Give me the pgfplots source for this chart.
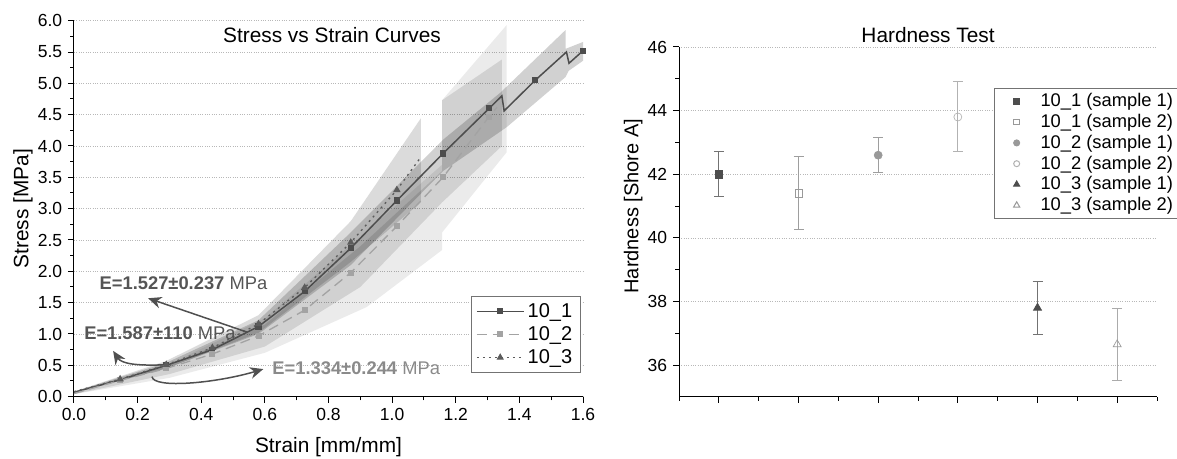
\documentclass[border=0pt]{standalone}
\usepackage{fontspec}
\setmainfont{Liberation Sans}
\usepackage{pgfplots}
\pgfplotsset{compat=1.18}
\usetikzlibrary{arrows.meta}
\definecolor{cOne}{HTML}{4D4D4D}
\definecolor{cTwo}{HTML}{A3A3A3}
\definecolor{cThree}{HTML}{5C5C5C}
\definecolor{cTxt}{HTML}{555555}
\definecolor{cTxtL}{HTML}{8A8A8A}
\definecolor{cArr}{HTML}{505050}
\begin{document}
\begin{tikzpicture}
\useasboundingbox (0,0) rectangle (706.2pt,275.4pt);
% ---------------- left: stress-strain ----------------
\begin{axis}[
  at={(44.4pt,37.4pt)}, anchor=south west,
  scale only axis, width=305.4pt, height=225.6pt,
  xmin=0, xmax=1.6, ymin=0, ymax=6,
  axis lines=left, axis line style={-, line width=0.6pt},
  x axis line style={-}, y axis line style={-},
  tick align=outside, major tick length=3.6pt, minor tick length=2.2pt,
  tick style={line width=0.6pt, black},
  xtick={0,0.2,0.4,0.6,0.8,1.0,1.2,1.4,1.6},
  ytick={0,0.5,1,1.5,2,2.5,3,3.5,4,4.5,5,5.5,6},
  minor x tick num=1, minor y tick num=1,
  ymajorgrids, grid style={densely dotted, black!28},
  /pgf/number format/assume math mode=true,
  xticklabel style={/pgf/number format/.cd, fixed, fixed zerofill, precision=1},
  yticklabel style={/pgf/number format/.cd, fixed, fixed zerofill, precision=1},
  tick label style={font=\fontsize{10.5}{12}\selectfont},
  xlabel={Strain [mm/mm]}, ylabel={Stress [MPa]},
  label style={font=\fontsize{12.5}{14}\selectfont},
  xlabel style={at={(axis description cs:0.5,-0.133)}, anchor=center},
  ylabel style={at={(axis description cs:-0.100,0.5)}, anchor=center},
  legend cell align=left,
  legend style={at={(axis description cs:0.996,0.063)}, anchor=south east,
    draw=black!55, line width=0.6pt, font=\fontsize{12}{14}\selectfont,
    nodes={inner sep=2pt}, row sep=0pt},
  legend image code/.code={\draw[#1, mark indices={2}] plot coordinates {(0pt,0pt) (14pt,0pt) (28pt,0pt)};},
]
% bands
\addplot[fill=black, fill opacity=0.08, draw=none, forget plot] coordinates {
 (0,0.05) (0.3,0.52) (0.6,1.25) (0.9,2.55) (1.157,3.7) (1.157,4.73) (1.36,5.93)
 (1.36,3.9) (1.29,3.46) (1.157,2.62) (1.157,2.34) (0.92,1.43) (0.6,0.70) (0.3,0.30) (0,0.04)} -- cycle;
\addplot[fill=black, fill opacity=0.11, draw=none, forget plot] coordinates {
 (0,0.05) (0.3,0.5) (0.6,1.15) (0.9,2.4) (1.157,3.6) (1.157,4.73) (1.345,5.38)
 (1.345,4.0) (1.157,3.1) (0.9,1.75) (0.6,0.8) (0.3,0.36) (0,0.04)} -- cycle;
\addplot[fill=black, fill opacity=0.18, draw=none, forget plot] coordinates {
 (0,0.08) (0.29,0.54) (0.58,1.22) (0.87,2.62) (1.16,4.1) (1.34,4.85) (1.545,5.85)
 (1.545,5.55) (1.6,5.66) (1.6,5.36) (1.555,5.2) (1.545,5.1) (1.36,4.3) (1.16,3.6)
 (0.87,2.1) (0.58,1.0) (0.29,0.45) (0,0.06)} -- cycle;
\addplot[fill=black, fill opacity=0.14, draw=none, forget plot] coordinates {
 (0,0.08) (0.29,0.57) (0.58,1.3) (0.87,2.8) (1.09,4.44)
 (1.09,3.1) (0.87,2.15) (0.58,1.02) (0.29,0.45) (0,0.06)} -- cycle;
% curves
\addplot[cOne, line width=0.9pt, mark=square*, mark size=1.4pt,
  mark options={solid, fill=cOne}, mark indices={2,3,4,5,6,7,8,9,10,13,16}] coordinates {
 (0,0.07) (0.145,0.27) (0.29,0.5) (0.435,0.75) (0.58,1.12) (0.725,1.68) (0.87,2.37)
 (1.015,3.13) (1.16,3.88) (1.305,4.6) (1.345,4.8) (1.352,4.56) (1.45,5.05)
 (1.548,5.5) (1.556,5.32) (1.6,5.52)};
\addlegendentry{10\_1}
\addplot[cTwo, line width=0.8pt, dash pattern=on 6pt off 3.5pt, mark=square*, mark size=1.4pt,
  mark options={solid, fill=cTwo}, mark indices={2,3,4,5,6,7,8,9,10}] coordinates {
 (0,0.05) (0.145,0.26) (0.29,0.45) (0.435,0.68) (0.58,0.97) (0.725,1.38) (0.87,1.98)
 (1.015,2.72) (1.16,3.5) (1.305,4.47) (1.33,4.62)};
\addlegendentry{10\_2}
\addplot[cThree, line width=0.8pt, dash pattern=on 1.2pt off 2.4pt, mark=triangle*, mark size=1.8pt,
  mark options={solid, fill=cThree}, mark indices={2,3,4,5,6,7,8}] coordinates {
 (0,0.08) (0.145,0.28) (0.29,0.51) (0.435,0.78) (0.58,1.16) (0.725,1.74) (0.87,2.46)
 (1.015,3.3) (1.09,3.82)};
\addlegendentry{10\_3}
% annotations
\node[font=\fontsize{12.5}{14}\selectfont] at (axis cs:0.811,5.77) {Stress vs Strain Curves};
\node[text=cTxt, font=\fontsize{11}{13}\selectfont] at (axis cs:0.344,1.81) {\textbf{E=1.527±0.237} MPa};
\node[text=cTxt, font=\fontsize{11}{13}\selectfont] at (axis cs:0.27,1.02) {\textbf{E=1.587±110} MPa};
\node[text=cTxtL, font=\fontsize{11}{13}\selectfont] at (axis cs:0.887,0.46) {\textbf{E=1.334±0.244} MPa};
\draw[cArr, line width=0.9pt, -{Stealth[length=8pt,width=7pt]}] (axis cs:0.544,1.03) -- (axis cs:0.233,1.57);
\draw[cArr, line width=0.9pt, -{Stealth[length=8pt,width=7pt]}] (axis cs:0.292,0.51) .. controls (axis cs:0.2,0.49) and (axis cs:0.15,0.52) .. (axis cs:0.123,0.73);
\draw[cArr, line width=0.9pt, -{Stealth[length=8pt,width=7pt]}] (axis cs:0.245,0.32) .. controls (axis cs:0.25,0.12) and (axis cs:0.45,0.22) .. (axis cs:0.595,0.44);
\end{axis}
% ---------------- right: hardness ----------------
\begin{axis}[
  at={(407.4pt,37.2pt)}, anchor=south west,
  scale only axis, width=286.8pt, height=210pt,
  xmin=0.5, xmax=6.5, ymin=35, ymax=46,
  clip=false,
  axis lines=left, axis line style={-, line width=0.6pt},
  x axis line style={-}, y axis line style={-},
  tick align=outside, major tick length=3.6pt, minor tick length=2.2pt,
  tick style={line width=0.6pt, black},
  xtick={1,2,3,4,5,6}, xticklabels={},
  minor xtick={0.5,1.5,2.5,3.5,4.5,5.5,6.5},
  ytick={36,38,40,42,44,46}, minor ytick={37,39,41,43,45},
  ymajorgrids, grid style={densely dotted, black!28},
  /pgf/number format/assume math mode=true,
  tick label style={font=\fontsize{10.5}{12}\selectfont},
  ylabel={Hardness [Shore A]},
  label style={font=\fontsize{12}{14}\selectfont},
  ylabel style={at={(axis description cs:-0.096,0.545)}, anchor=center},
  legend cell align=left,
  legend style={at={(axis description cs:0.659,0.883)}, anchor=north west,
    draw=black!55, line width=0.6pt, font=\fontsize{11}{13}\selectfont,
    nodes={inner sep=1pt}, row sep=1pt, inner xsep=2pt},
  legend image code/.code={\path (-11pt,0pt) (13pt,0pt); \draw[#1, mark options={scale=0.75}] plot coordinates {(0pt,0pt)};},
  error bars/error bar style={line width=0.6pt},
]
\addplot[only marks, mark=square*, mark size=2.2pt, draw=cOne, fill=cOne,
  error bars/.cd, y dir=both, y explicit, error bar style={draw=black!55},
  error mark options={rotate=90, mark size=3pt, line width=0.6pt, draw=black!55}]
  coordinates {(1,42.0) +- (0,0.71)};
\addlegendentry{10\_1 (sample 1)}
\addplot[only marks, mark=square, mark size=2.2pt, draw=black!40, fill=white, mark options={fill=white},
  error bars/.cd, y dir=both, y explicit, error bar style={draw=black!38},
  error mark options={rotate=90, mark size=3pt, line width=0.6pt, draw=black!38}]
  coordinates {(2,41.4) +- (0,1.15)};
\addlegendentry{10\_1 (sample 2)}
\addplot[only marks, mark=*, mark size=2.4pt, draw=black!40, fill=black!40,
  error bars/.cd, y dir=both, y explicit, error bar style={draw=black!38},
  error mark options={rotate=90, mark size=3pt, line width=0.6pt, draw=black!38}]
  coordinates {(3,42.6) +- (0,0.55)};
\addlegendentry{10\_2 (sample 1)}
\addplot[only marks, mark=o, mark size=2.4pt, draw=black!30, fill=white, mark options={fill=white},
  error bars/.cd, y dir=both, y explicit, error bar style={draw=black!30},
  error mark options={rotate=90, mark size=3pt, line width=0.6pt, draw=black!30}]
  coordinates {(4,43.8) +- (0,1.1)};
\addlegendentry{10\_2 (sample 2)}
\addplot[only marks, mark=triangle*, mark size=2.8pt, draw=cOne, fill=cOne,
  error bars/.cd, y dir=both, y explicit, error bar style={draw=black!55},
  error mark options={rotate=90, mark size=3pt, line width=0.6pt, draw=black!55}]
  coordinates {(5,37.8) +- (0,0.83)};
\addlegendentry{10\_3 (sample 1)}
\addplot[only marks, mark=triangle, mark size=2.8pt, draw=black!40, fill=white, mark options={fill=white},
  error bars/.cd, y dir=both, y explicit, error bar style={draw=black!33},
  error mark options={rotate=90, mark size=3pt, line width=0.6pt, draw=black!33}]
  coordinates {(6,36.65) +- (0,1.13)};
\addlegendentry{10\_3 (sample 2)}
\node[font=\fontsize{12.5}{14}\selectfont] at (rel axis cs:0.521,1.034) {Hardness Test};
\end{axis}
\end{tikzpicture}
\end{document}
